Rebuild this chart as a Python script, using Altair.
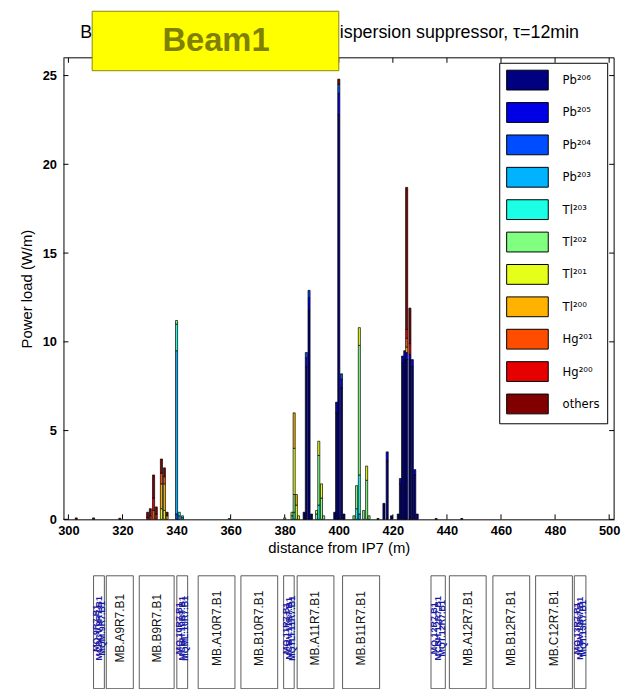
import altair as alt
import pandas as pd

NARROW = "Liberation Sans Narrow, Liberation Sans, sans-serif"
SANS = "Liberation Sans, Arial, sans-serif"
LEGFONT = "DejaVu Sans Condensed, DejaVu Sans, sans-serif"

# ---- species (legend) ----
species_keys = ["Pb206", "Pb205", "Pb204", "Pb203", "Tl203", "Tl202",
                "Tl201", "Tl200", "Hg201", "Hg200", "others"]
species_labels = ["Pb²⁰⁶", "Pb²⁰⁵", "Pb²⁰⁴", "Pb²⁰³", "Tl²⁰³", "Tl²⁰²",
                  "Tl²⁰¹", "Tl²⁰⁰", "Hg²⁰¹", "Hg²⁰⁰", "others"]
species_colors = ["#000080", "#0000E6", "#004DFF", "#00B3FF", "#1AFFE6", "#80FF80",
                  "#E6FF1A", "#FFB300", "#FF4D00", "#E60000", "#800000"]

# ---- bars: position (m) and stacked composition (W/m) ----
bar_x = [302.9, 309.3, 319.0, 329.3, 330.3, 331.5, 332.5, 334.4, 335.5, 336.5,
         340.0, 341.0, 342.2, 359.5, 380.0, 382.7, 383.5, 384.3, 385.1, 387.2,
         388.0, 389.0, 389.9, 391.8, 392.6, 393.6, 394.4, 398.5, 399.2, 400.0,
         401.0, 401.9, 405.6, 406.6, 407.6, 409.2, 410.3, 411.2, 414.5, 416.7,
         417.9, 419.5, 422.0, 422.8, 423.6, 424.4, 425.1, 426.3, 427.2, 428.1,
         429.0, 436.0, 445.5]
bar_parts = [
    {"others": 0.08}, {"others": 0.08}, {"others": 0.06},
    {"Hg200": 0.1, "others": 0.3},
    {"Hg200": 0.2, "others": 0.4},
    {"Hg201": 0.5, "Hg200": 0.7, "others": 1.3},
    {"Hg200": 0.3, "others": 0.4},
    {"Tl201": 0.6, "Tl200": 1.4, "Hg201": 0.6, "others": 0.8},
    {"Tl201": 0.5, "Tl200": 1.5, "Hg201": 0.4, "others": 0.5},
    {"Tl200": 0.2, "others": 0.2},
    {"Pb204": 0.3, "Pb203": 9.2, "Tl203": 1.5, "Tl202": 0.2},
    {"Pb203": 0.2, "Tl203": 0.2},
    {"Pb203": 0.1, "Tl203": 0.1},
    {"Tl202": 0.05},
    {"Tl202": 0.08},
    {"Tl202": 0.2, "Tl201": 0.2},
    {"Tl203": 0.4, "Tl202": 1.0, "Tl201": 2.6, "Tl200": 2.0},
    {"Tl201": 0.8, "Tl200": 0.6},
    {"Tl201": 0.2},
    {"Pb206": 0.4},
    {"Pb206": 8.6, "Pb205": 0.5, "Pb204": 0.3},
    {"Pb206": 11.8, "Pb205": 0.7, "Pb204": 0.4},
    {"Pb206": 0.3},
    {"Tl202": 0.3, "Tl201": 0.2},
    {"Tl203": 0.8, "Tl202": 2.8, "Tl201": 0.8},
    {"Tl202": 1.2, "Tl201": 0.8},
    {"Tl202": 0.2},
    {"Pb206": 0.4},
    {"Pb206": 6.0, "Pb205": 0.6},
    {"Pb206": 22.8, "Pb205": 1.2, "Pb204": 0.5, "others": 0.3},
    {"Pb206": 7.4, "Pb205": 0.5, "Pb204": 0.3},
    {"Pb206": 0.3},
    {"Tl202": 0.2},
    {"Tl203": 0.6, "Tl202": 1.3},
    {"Pb203": 0.3, "Tl203": 2.2, "Tl202": 7.3, "Tl201": 1.0},
    {"Tl202": 0.5},
    {"Tl202": 2.2, "Tl201": 0.8},
    {"Tl202": 0.2},
    {"Pb206": 0.05},
    {"Pb206": 0.9},
    {"Pb206": 3.3, "Pb205": 0.5},
    {"Pb206": 0.2},
    {"Pb206": 0.3},
    {"Pb206": 2.0, "Pb205": 0.3},
    {"Pb206": 8.8, "Pb205": 0.4},
    {"Pb206": 9.0, "Pb205": 0.5},
    {"Pb206": 9.0, "Pb205": 0.4, "Tl200": 0.3, "Hg201": 0.5, "Hg200": 0.5, "others": 8.0},
    {"Pb206": 9.0, "Pb205": 0.3, "Hg200": 0.6, "others": 2.0},
    {"Pb206": 8.6, "Pb205": 0.4},
    {"Pb206": 2.5, "Pb205": 0.3},
    {"Pb206": 0.3},
    {"others": 0.05},
    {"Pb206": 0.05},
]

# ---- magnet layout strip ----
dipole_names = ["MB.A9R7.B1", "MB.B9R7.B1", "MB.A10R7.B1", "MB.B10R7.B1",
                "MB.A11R7.B1", "MB.B11R7.B1", "MB.A12R7.B1", "MB.B12R7.B1",
                "MB.C12R7.B1"]
dipole_start = [314.0, 326.2, 348.0, 363.8, 384.6, 401.4, 440.9, 457.0, 472.8]
dipole_end = [324.0, 339.1, 361.6, 377.4, 398.2, 415.1, 454.5, 470.6, 486.4]
dipole_mid = [319.0, 332.6, 354.8, 370.6, 391.4, 408.2, 447.7, 463.8, 479.6]

quad_start = [309.3, 340.1, 379.6, 434.1, 487.1]
quad_end = [313.3, 344.1, 383.5, 439.4, 491.4]
quad_label_x = [310.2, 311.3, 312.4, 341.0, 342.1, 343.2, 380.5, 381.6, 382.7,
                435.3, 436.7, 438.2, 488.0, 489.2, 490.4]
quad_label = ["MQ.9R7.B1", "MCBCV.9R7.B1", "MQM.9R7.B1",
              "MQ.10R7.B1", "MCBH.10R7.B1", "MQML.10R7.B1",
              "MQ.11R7.B1", "MCBV.11R7.B1", "MQTLI.11R7.B1",
              "MQ.12R7.B1", "MCBH.12R7.B1", "MQT.12R7.B1",
              "MQ.13R7.B1", "MCBV.13R7.B1", "MQT.13R7.B1"]

x_ticks = [300, 320, 340, 360, 380, 400, 420, 440, 460, 480, 500]
y_ticks = [0, 5, 10, 15, 20, 25]

title_left = ["B"]
title_right = ["ispersion suppressor, τ=12min"]
badge_text = ["Beam1"]

# ---- build tables ----
rows = []
for xpos, parts in zip(bar_x, bar_parts):
    for k, v in parts.items():
        i = species_keys.index(k)
        rows.append({"x": xpos, "label": species_labels[i], "idx": i, "value": v})
bars_df = pd.DataFrame(rows)

dip_df = pd.DataFrame({"name": dipole_names, "x0": dipole_start, "x1": dipole_end,
                       "xc": dipole_mid})
quad_df = pd.DataFrame({"x0": quad_start, "x1": quad_end})
qlab_df = pd.DataFrame({"x": quad_label_x, "name": quad_label})
xt_df = pd.DataFrame({"x": x_ticks})
yt_df = pd.DataFrame({"y": y_ticks})

W, H = 556, 466

xscale = alt.Scale(domain=[300, 500], nice=False, zero=False)
yscale = alt.Scale(domain=[0, 26], nice=False, zero=True)
xaxis = alt.Axis(values=x_ticks, title="distance from IP7 (m)", grid=False,
                 labelFont=NARROW, labelFontSize=13, labelFontWeight="bold",
                 labelColor="black", titleFont=SANS, titleFontSize=15,
                 titleFontWeight="normal", titleColor="black", ticks=False,
                 domainColor="black", labelPadding=5,
                 titlePadding=3, labelFlush=False)
yaxis = alt.Axis(values=y_ticks, title="Power load (W/m)", grid=False,
                 labelFont=NARROW, labelFontSize=13, labelFontWeight="bold",
                 labelColor="black", titleFont=SANS, titleFontSize=15,
                 titleFontWeight="normal", titleColor="black", ticks=False,
                 domainColor="black", labelPadding=7,
                 titlePadding=8)

one = pd.DataFrame({"t": title_left})

frame = alt.Chart(one).mark_rule(color="black", strokeWidth=1).encode(
    x=alt.value(0), x2=alt.value(W), y=alt.value(0))
frame_r = alt.Chart(one).mark_rule(color="black", strokeWidth=1).encode(
    x=alt.value(W), y=alt.value(0), y2=alt.value(H))

# inward ticks on all four sides
xt_bot = alt.Chart(xt_df).mark_rule(color="black", strokeWidth=1).encode(
    x=alt.X("x:Q", scale=xscale, axis=xaxis), y=alt.value(H), y2=alt.value(H - 5))
xt_top = alt.Chart(xt_df).mark_rule(color="black", strokeWidth=1).encode(
    x=alt.X("x:Q", scale=xscale, axis=xaxis), y=alt.value(0), y2=alt.value(5))
yt_left = alt.Chart(yt_df).mark_rule(color="black", strokeWidth=1).encode(
    y=alt.Y("y:Q", scale=yscale, axis=yaxis), x=alt.value(0), x2=alt.value(5))
yt_right = alt.Chart(yt_df).mark_rule(color="black", strokeWidth=1).encode(
    y=alt.Y("y:Q", scale=yscale, axis=yaxis), x=alt.value(W - 5), x2=alt.value(W))

bars = alt.Chart(bars_df).mark_bar(width=2.1, stroke="black", strokeWidth=0.7).encode(
    x=alt.X("x:Q", scale=xscale, axis=xaxis),
    y=alt.Y("value:Q", stack="zero", scale=yscale, axis=yaxis),
    color=alt.Color("label:N",
                    scale=alt.Scale(domain=species_labels, range=species_colors),
                    sort=species_labels,
                    legend=alt.Legend(title=None, orient="none", legendX=440, legendY=5,
                                      direction="vertical",
                                      symbolType="M-2.1,-1H2.1V1H-2.1Z",
                                      symbolSize=400, symbolStrokeColor="black",
                                      symbolStrokeWidth=1, symbolOpacity=1,
                                      symbolOffset=11, labelOffset=25,
                                      labelFont=LEGFONT, labelFontSize=13,
                                      labelColor="black", rowPadding=7.7,
                                      padding=7, strokeColor="black",
                                      fillColor="white", labelLimit=80)),
    order=alt.Order("idx:Q", sort="ascending"),
)

dip_rect = alt.Chart(dip_df).mark_rect(fill="white", stroke="#333333", strokeWidth=0.8).encode(
    x=alt.X("x0:Q", scale=xscale, axis=xaxis), x2="x1:Q",
    y=alt.value(523), y2=alt.value(637))
dip_text = alt.Chart(dip_df).mark_text(angle=270, fontSize=12, font=SANS, color="#111111",
                                       baseline="middle", align="center").encode(
    x=alt.X("xc:Q", scale=xscale, axis=xaxis), y=alt.value(576), text="name:N")
quad_rect = alt.Chart(quad_df).mark_rect(fill="white", stroke="#333333", strokeWidth=0.8).encode(
    x=alt.X("x0:Q", scale=xscale, axis=xaxis), x2="x1:Q",
    y=alt.value(523), y2=alt.value(637))
quad_text = alt.Chart(qlab_df).mark_text(angle=270, fontSize=9, font=SANS, color="#1A1AA6",
                                         fontWeight="bold",
                                         baseline="middle", align="center").encode(
    x=alt.X("x:Q", scale=xscale, axis=xaxis), y=alt.value(576), text="name:N")

t_left = alt.Chart(one).mark_text(fontSize=18, font=SANS, color="black", align="left",
                                  baseline="alphabetic").encode(
    x=alt.value(17), y=alt.value(-20), text="t:N")
t_right = alt.Chart(pd.DataFrame({"t": title_right})).mark_text(
    fontSize=18, font=SANS, color="black", align="left", baseline="alphabetic").encode(
    x=alt.value(279), y=alt.value(-20), text="t:N")
badge_box = alt.Chart(one).mark_rect(fill="#FFFF00", stroke="#8A8A00", strokeWidth=1).encode(
    x=alt.value(29), x2=alt.value(278), y=alt.value(-47), y2=alt.value(13))
badge = alt.Chart(pd.DataFrame({"b": badge_text})).mark_text(
    fontSize=33, font=SANS, fontWeight="bold", color="#808000",
    align="center", baseline="middle").encode(
    x=alt.value(154), y=alt.value(-17), text="b:N")

chart = alt.layer(frame, frame_r, xt_bot, xt_top, yt_left, yt_right, bars,
                  dip_rect, dip_text, quad_rect, quad_text,
                  t_left, t_right, badge_box, badge).properties(
    width=W, height=H,
    autosize=alt.AutoSizeParams(type="none"),
    padding={"left": 56, "top": 47, "right": 12, "bottom": 168},
).configure_view(stroke=None)

chart.save("out.html", embed_options={"renderer": "svg", "actions": False})
